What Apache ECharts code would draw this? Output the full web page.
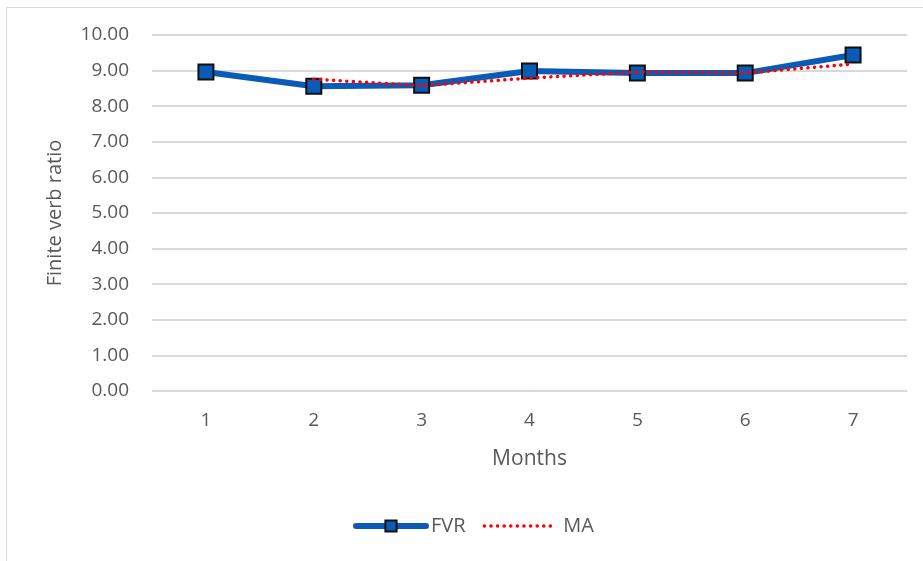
<!DOCTYPE html>
<html><head><meta charset="utf-8">
<script src="https://cdn.jsdelivr.net/npm/echarts@6/dist/echarts.min.js"></script>
<style>html,body{margin:0;padding:0;background:#fff}#c{width:923px;height:561px}</style>
</head><body><div id="c"></div>
<script>
const months = ['1','2','3','4','5','6','7'];
const fvr = [8.96, 8.56, 8.59, 8.99, 8.93, 8.93, 9.44];
const ma = [null, 8.76, 8.575, 8.79, 8.96, 8.93, 9.185];
const yTicks = {min: 0, max: 10, interval: 1};

const chart = echarts.init(document.getElementById('c'), null, {renderer: 'canvas'});
const grey = '#595959';
const font = "'Open Sans', 'Liberation Sans', sans-serif";
const dotted = {color: '#ff0000', width: 3.5, type: [0.1, 6.5], cap: 'round'};
chart.setOption({
  animation: false,
  backgroundColor: '#fff',
  graphic: [
    {type: 'line', shape: {x1: 6.5, y1: 7.5, x2: 923, y2: 7.5}, style: {stroke: '#d9d9d9', lineWidth: 1}},
    {type: 'line', shape: {x1: 6.5, y1: 7.5, x2: 6.5, y2: 561}, style: {stroke: '#d9d9d9', lineWidth: 1}}
  ],
  grid: {left: 152, right: 16, top: 35, bottom: 170, containLabel: false},
  legend: {
    top: 516, left: 353, padding: 0, itemGap: 17, itemWidth: 70, itemHeight: 14,
    textStyle: {color: grey, fontSize: 20, fontFamily: font},
    data: [
      {name: 'FVR', lineStyle: {color: '#0a5bb5', width: 6, cap: 'round'}},
      {name: 'MA', itemStyle: {opacity: 0}, lineStyle: dotted, textStyle: {padding: [0, 0, 0, 4]}}
    ]
  },
  xAxis: {
    type: 'category', data: months, boundaryGap: true,
    name: 'Months', nameLocation: 'middle', nameGap: 58,
    nameTextStyle: {color: grey, fontSize: 21, fontFamily: font},
    axisLine: {show: true, lineStyle: {color: '#d9d9d9', width: 1}},
    axisTick: {show: false},
    axisLabel: {color: grey, fontSize: 19, fontFamily: font, margin: 20}
  },
  yAxis: {
    type: 'value', min: yTicks.min, max: yTicks.max, interval: yTicks.interval,
    name: 'Finite verb ratio', nameLocation: 'middle', nameGap: 87,
    nameTextStyle: {color: grey, fontSize: 20, fontFamily: font},
    axisLine: {show: false}, axisTick: {show: false},
    axisLabel: {color: grey, fontSize: 19, fontFamily: font, margin: 23,
      formatter: v => v.toFixed(2)},
    splitLine: {lineStyle: {color: '#d9d9d9', width: 2}}
  },
  series: [
    {name: 'FVR', type: 'line', data: fvr, symbol: 'rect', symbolSize: 15,
     lineStyle: {color: '#0a5bb5', width: 6},
     itemStyle: {color: '#0a5bb5', borderColor: '#111', borderWidth: 2},
     z: 2},
    {name: 'MA', type: 'line', data: ma, symbol: 'circle', showSymbol: false, connectNulls: false,
     lineStyle: dotted,
     itemStyle: {color: '#ff0000'},
     z: 3}
  ]
});
</script></body></html>
